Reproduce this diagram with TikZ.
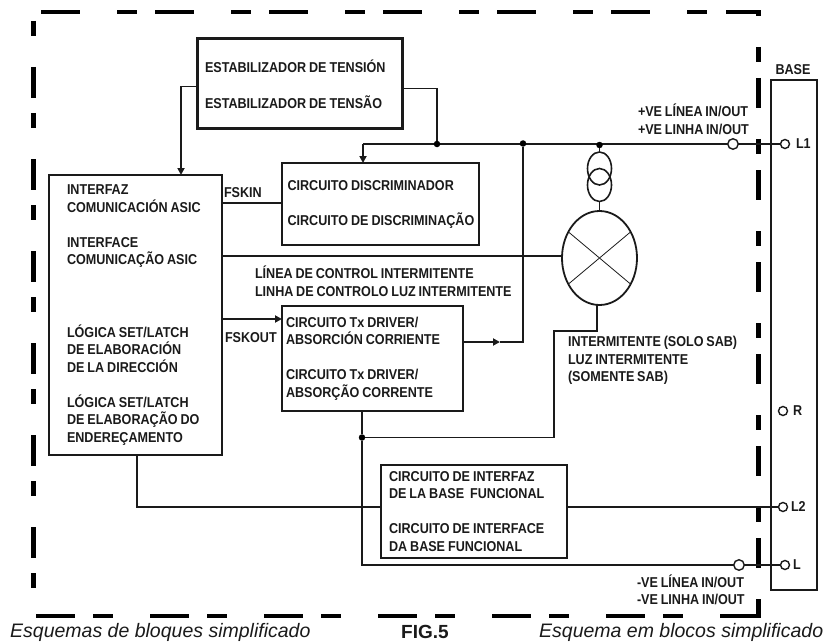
\documentclass[tikz,border=0pt]{standalone}
\usepackage{fontspec}
\setmainfont{Liberation Sans}
\newfontfamily\lab[FakeStretch=0.88,WordSpace=0.8]{Liberation Sans}
\usetikzlibrary{arrows.meta,shapes.geometric}
\definecolor{ink}{HTML}{1A1A1A}
\tikzset{
  wire/.style={line width=1.8pt,line cap=butt,line join=miter,color=ink},
  thinwire/.style={line width=1.4pt,color=ink},
  tip/.style={-{Triangle[length=7pt,width=7pt]}},
  border/.style={line width=4.2pt,color=black},
  blockbox/.style={draw=ink,line width=#1,outer sep=0pt,align=left,font=\lab\bfseries\fontsize{14.3}{17.5}\selectfont,text=ink,inner ysep=0pt,execute at begin node={\spaceskip=3pt\relax}},
  lbl/.style={anchor=west,align=left,inner sep=0pt,outer sep=0pt,text=ink,font=\lab\bfseries\fontsize{14.3}{17.5}\selectfont},
  caption/.style={anchor=west,inner sep=0pt,text=ink},
  term/.style={circle,draw=ink,line width=1.4pt,fill=white,inner sep=0pt,outer sep=0pt,minimum size=#1},
  jdot/.style={circle,fill=black,inner sep=0pt,outer sep=0pt,minimum size=6.5pt},
  coilring/.style={draw=ink,line width=1.6pt,ellipse,outer sep=0pt,inner sep=0pt,minimum width=24pt,minimum height=33pt},
}
\begin{document}
\begin{tikzpicture}[x=1pt,y=-1pt]
\useasboundingbox (0,0) rectangle (823,642);
% dashed outline
\draw[border,dash pattern=on 39pt off 37pt on 20pt off 18pt] (41,11.7) -- (722,11.7);
\draw[border] (726,11.7) -- (758.5,11.7) -- (758.5,16.5);
\draw[border,dash pattern=on 15pt off 31pt on 31pt off 15pt] (33.5,21) -- (33.5,589);
\draw[border,dash pattern=on 39pt off 18pt on 20pt off 37pt] (36,615.7) -- (704,615.7);
\draw[border] (720,615.7) -- (758.5,615.7) -- (758.5,599);
\draw[border,dash pattern=on 15pt off 16pt on 30pt off 31pt] (758.5,47) -- (758.5,569);
% blocks
\node[blockbox=3pt,text width=189pt,inner xsep=8pt,minimum height=90pt] (stab) at (299.5,84)
  {ESTABILIZADOR DE TENSIÓN\\[18.5pt]ESTABILIZADOR DE TENSÃO};
\node[blockbox=1.6pt,text width=137pt,inner xsep=18pt,minimum height=280pt] (asic) at (135.5,315)
  {INTERFAZ\\COMUNICACIÓN ASIC\\[17.5pt]INTERFACE\\COMUNICAÇÃO ASIC\\[55pt]LÓGICA SET/LATCH\\DE ELABORACIÓN\\DE LA DIRECCIÓN\\[17.5pt]LÓGICA SET/LATCH\\DE ELABORAÇÃO DO\\ENDEREÇAMENTO};
\node[blockbox=1.8pt,text width=189pt,inner xsep=4pt,minimum height=82pt] (disc) at (380.5,204)
  {\hspace*{1.5pt}CIRCUITO DISCRIMINADOR\\[17.5pt]\hspace*{1.5pt}CIRCUITO DE DISCRIMINAÇÃO};
\node[blockbox=1.8pt,text width=173pt,inner xsep=4pt,minimum height=105pt] (tx) at (372.5,358.5)
  {CIRCUITO Tx DRIVER/\\ABSORCIÓN CORRIENTE\\[17.5pt]CIRCUITO Tx DRIVER/\\ABSORÇÃO CORRENTE};
\node[blockbox=2.5pt,text width=170pt,inner xsep=8pt,minimum height=93pt] (bif) at (474,511.5)
  {CIRCUITO DE INTERFAZ\\DE LA BASE\ \ FUNCIONAL\\[17.5pt]CIRCUITO DE INTERFACE\\DA BASE FUNCIONAL};
\node[draw=ink,line width=1.4pt,outer sep=0pt,minimum width=46pt,minimum height=510pt,inner sep=0pt] (base) at (794,335) {};
% lamp and transformer symbol
\node[draw=ink,line width=1.8pt,ellipse,outer sep=0pt,inner sep=0pt,minimum width=75pt,minimum height=94pt] (lamp) at (599.5,258) {};
\node[coilring] (coila) at (599.5,168.5) {};
\node[coilring] (coilb) at (599.5,185) {};
\draw[line width=.8pt,color=ink] (lamp.140) -- (lamp.320) (lamp.40) -- (lamp.220);
% terminals and junctions
\node[term=10.5pt] (plus) at (733,144) {};
\node[term=10.5pt] (minus) at (739,565) {};
\node[term=9pt] (tL1) at (785,144) {};
\node[term=9pt] (tR) at (783,411) {};
\node[term=9pt] (tL2) at (783,507) {};
\node[term=9pt] (tL) at (785,565) {};
\coordinate (busend) at (363,144);
\draw[wire] (plus) -- (busend);
\node[jdot] (j1) at (437,144) {};
\node[jdot] (j2) at (523,143.5) {};
\node[jdot] (j3) at (599.5,145) {};
\node[jdot] (j4) at (362,437.5) {};
% bend points
\coordinate (sl) at (181,86.5);
\coordinate (sr) at (437,88.5);
\coordinate (lb1) at (597,331);
\coordinate (lb2) at (554,331);
\coordinate (lb3) at (554,437.5);
\coordinate (txo) at (500,342);
\coordinate (txc) at (523,342);
\coordinate (ab) at (137,507);
\coordinate (txb) at (362,565);
\coordinate (fi) at (0,203);
\coordinate (ctl) at (0,256);
\coordinate (fo) at (0,319);
% connectors
\draw[wire,tip] (stab.west |- sl) -- (sl) -- (asic.north -| sl);
\draw[wire] (stab.east |- sr) -- (sr) -- (j1);
\draw[wire,tip] (busend) -- (disc.north -| busend);
\draw[wire] (plus) -- (tL1);
\draw[wire] (asic.east |- fi) -- (disc.west |- fi);
\draw[wire] (asic.east |- ctl) -- (lamp.west |- ctl);
\draw[wire,tip] (asic.east |- fo) -- (tx.west |- fo);
\draw[wire,tip] (tx.east |- txo) -- (txo);
\draw[wire] (txo) -- (txc) -- (j2);
\draw[wire] (j3) -- (coila.north);
\draw[wire] (coilb.south) -- (lamp.north);
\draw[wire] (lamp.south -| lb1) -- (lb1) -- (lb2) -- (lb3) -- (j4);
\draw[wire] (tx.south -| j4) -- (j4) -- (txb) -- (minus);
\draw[wire] (minus) -- (tL);
\draw[thinwire] (asic.south -| ab) -- (ab) -- (bif.west |- ab);
\draw[wire] (bif.east |- tL2) -- (tL2);
% labels
\node[lbl] (fskin) at (224,193) {FSKIN};
\node[lbl] (fskout) at (225,338) {FSKOUT};
\node[lbl] (ctrl) at (255,281) {LÍNEA DE CONTROL INTERMITENTE\\LINHA DE CONTROLO LUZ INTERMITENTE};
\node[lbl] (pve) at (638,119.5) {+VE LÍNEA IN/OUT\\+VE LINHA IN/OUT};
\node[lbl] (nve) at (637,590) {-VE LÍNEA IN/OUT\\-VE LINHA IN/OUT};
\node[lbl] (flash) at (568,360.5) {INTERMITENTE (SOLO SAB)\\LUZ INTERMITENTE\\(SOMENTE SAB)};
\node[lbl,anchor=center] (basel) at (793,70) {BASE};
\node[lbl] (l1) at (796,144) {L1};
\node[lbl] (lr) at (793,411) {R};
\node[lbl] (l2) at (791,507) {L2};
\node[lbl] (ll) at (793,565) {L};
\node[caption,font=\itshape\fontsize{19.5}{22}\selectfont] (c1) at (10,632) {Esquemas de bloques simplificado};
\node[caption,font=\bfseries\fontsize{19}{22}\selectfont] (c2) at (401,632) {FIG.5};
\node[caption,font=\itshape\fontsize{19.5}{22}\selectfont] (c3) at (539,632) {Esquema em blocos simplificado};
\end{tikzpicture}
\end{document}
